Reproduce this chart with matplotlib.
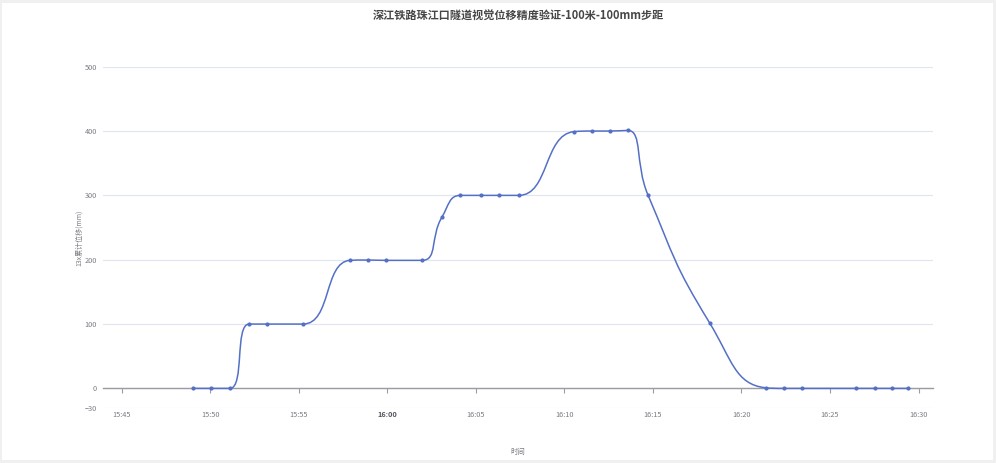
import numpy as np
import pandas as pd
import matplotlib
matplotlib.use('Agg')
import matplotlib.pyplot as plt
import matplotlib.dates as mdates
from matplotlib.path import Path
from matplotlib.patches import PathPatch, Rectangle

plt.rcParams['font.family'] = ['Noto Sans CJK SC', 'DejaVu Sans']

title = '深江铁路珠江口隧道视觉位移精度验证-100米-100mm步距'
y_label = '13x累计位移(mm)'
x_label = '时间'

times = ['15:49:02', '15:50:02', '15:51:07', '15:52:12', '15:53:13', '15:55:15',
         '15:57:54', '15:58:55', '15:59:56', '16:01:58', '16:03:05', '16:04:08',
         '16:05:17', '16:06:19', '16:07:26', '16:10:32', '16:11:33', '16:12:34',
         '16:13:35', '16:14:43', '16:18:12', '16:21:22', '16:22:23', '16:23:25',
         '16:26:29', '16:27:31', '16:28:31', '16:29:23']
displacement = [0, 0, 0, 100, 100, 100,
                199, 199.5, 199, 199, 266, 300,
                300, 300, 300, 399, 400, 400,
                401, 301, 102, 1, 0, 0,
                0, 0, 0, 0]

tick_labels = ['15:45', '15:50', '15:55', '16:00', '16:05',
               '16:10', '16:15', '16:20', '16:25', '16:30']
y_ticks = [-30, 0, 100, 200, 300, 400, 500]

day = '2023-06-01 '
t = mdates.date2num(pd.to_datetime([day + s for s in times]).to_pydatetime())
tick_pos = mdates.date2num(pd.to_datetime([day + s for s in tick_labels]).to_pydatetime())
x_min = mdates.date2num(pd.Timestamp(day + '15:43:56').to_pydatetime())
x_max = mdates.date2num(pd.Timestamp(day + '16:30:49').to_pydatetime())

line_color = '#5470c6'
grid_color = '#E0E6F1'
axis_color = '#9a9ca3'
label_color = '#7a7c84'


def echarts_smooth(pts, smooth=0.5):
    # same control point rule as echarts' smooth line, in pixel space
    verts = [tuple(pts[0])]
    codes = [Path.MOVETO]
    cp0 = tuple(pts[0])
    n = len(pts)
    for i in range(1, n):
        x, y = pts[i]
        px, py = pts[i - 1]
        if i == n - 1:
            cp1 = (x, y)
            ncp = (x, y)
        else:
            nx, ny = pts[i + 1]
            vx, vy = nx - px, ny - py
            lp = np.hypot(x - px, y - py)
            ln = np.hypot(nx - x, ny - y)
            r = ln / (ln + lp)
            ncx = x + vx * smooth * r
            ncy = y + vy * smooth * r
            ncx = max(min(ncx, max(nx, x)), min(nx, x))
            ncy = max(min(ncy, max(ny, y)), min(ny, y))
            vx, vy = ncx - x, ncy - y
            c1x = x - vx * lp / ln
            c1y = y - vy * lp / ln
            c1x = max(min(c1x, max(px, x)), min(px, x))
            c1y = max(min(c1y, max(py, y)), min(py, y))
            vx, vy = x - c1x, y - c1y
            ncp = (x + vx * ln / lp, y + vy * ln / lp)
            cp1 = (c1x, c1y)
        verts += [cp0, cp1, (x, y)]
        codes += [Path.CURVE4] * 3
        cp0 = ncp
    return verts, codes


fig = plt.figure(figsize=(9.96, 4.63), dpi=100)
fig.patch.set_facecolor('#f0f0f0')
fig.add_artist(Rectangle((2 / 996, 3 / 463), 991 / 996, 457 / 463,
                         transform=fig.transFigure, facecolor='white',
                         edgecolor='none', zorder=0))

ax = fig.add_axes([102.7 / 996, 1 - 407.7 / 463, (933 - 102.7) / 996, (407.7 - 66.7) / 463])
ax.set_facecolor('none')
ax.set_xlim(x_min, x_max)
ax.set_ylim(-30, 500)

for s in ['top', 'right', 'left']:
    ax.spines[s].set_visible(False)
ax.spines['bottom'].set_position(('data', 0))
ax.spines['bottom'].set_color(axis_color)
ax.spines['bottom'].set_linewidth(1.0)
ax.spines['bottom'].set_zorder(1)

ax.set_yticks(y_ticks)
ax.yaxis.grid(True, color=grid_color, linewidth=0.8)
ax.set_axisbelow(True)
ax.tick_params(axis='y', length=0, pad=4, labelsize=5.3, labelcolor=label_color)

ax.set_xticks(tick_pos)
ax.set_xticklabels(tick_labels)
ax.tick_params(axis='x', length=3.6, width=0.8, color=axis_color, direction='out',
               pad=13, labelsize=5.3, labelcolor=label_color)
for lab in ax.get_xticklabels():
    if lab.get_text() == '16:00':
        lab.set_fontweight('bold')
        lab.set_color('#55575e')

# smooth curve built in display space, then mapped back to data
disp = ax.transData.transform(np.column_stack([t, displacement]))
verts, codes = echarts_smooth(disp)
verts = ax.transData.inverted().transform(np.array(verts))
ax.add_patch(PathPatch(Path(verts, codes), facecolor='none', edgecolor=line_color,
                       linewidth=1.1, zorder=3))
ax.plot(t, displacement, 'o', color=line_color, markersize=2.0, zorder=4)

fig.text(518 / 996, 1 - 16 / 463, title, ha='center', va='center',
         fontsize=8, fontweight='bold', color='#464646')
fig.text(79 / 996, 1 - 238 / 463, y_label, rotation=90, ha='center', va='center',
         fontsize=5, color=label_color)
fig.text(518 / 996, 1 - 452 / 463, x_label, ha='center', va='center',
         fontsize=5.3, color=label_color)

fig.savefig('out.png', dpi=100)
